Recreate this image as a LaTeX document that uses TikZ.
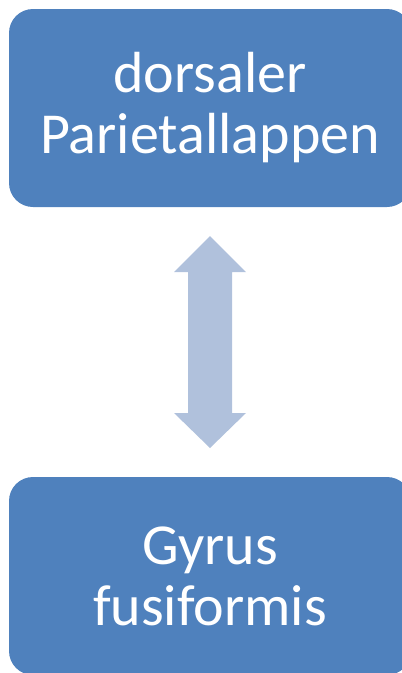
\documentclass[tikz,border=0pt]{standalone}
\usepackage{fontspec}
\setmainfont{Carlito}
\definecolor{boxblue}{RGB}{79,129,189}
\definecolor{arrowblue}{RGB}{176,193,220}
\begin{document}
\begin{tikzpicture}[x=1pt,y=-1pt,
  region/.style={fill=boxblue, draw=none, rounded corners=24pt,
    minimum width=402pt, minimum height=198pt, inner sep=0pt,
    text=white, align=center,
    font=\fontsize{58}{61}\selectfont}]
  \useasboundingbox (0,0) rectangle (402,673);
  \clip (0,0) rectangle (402,673);
  % upper and lower regions
  \node[region] (top) at (210,108) {dorsaler\\Parietallappen};
  \node[region] (bot) at (210,576) {Gyrus\\fusiformis};
  % block double arrow between the two regions
  \coordinate (up) at (210,236);
  \coordinate (dn) at (210,448);
  \fill[arrowblue] (up) -- ++(36,36) -- ++(-14,0) -- ++(0,141) -- ++(14,0)
    -- (dn) -- ++(-36,-35) -- ++(14,0) -- ++(0,-141) -- ++(-14,0) -- cycle;
\end{tikzpicture}
\end{document}
